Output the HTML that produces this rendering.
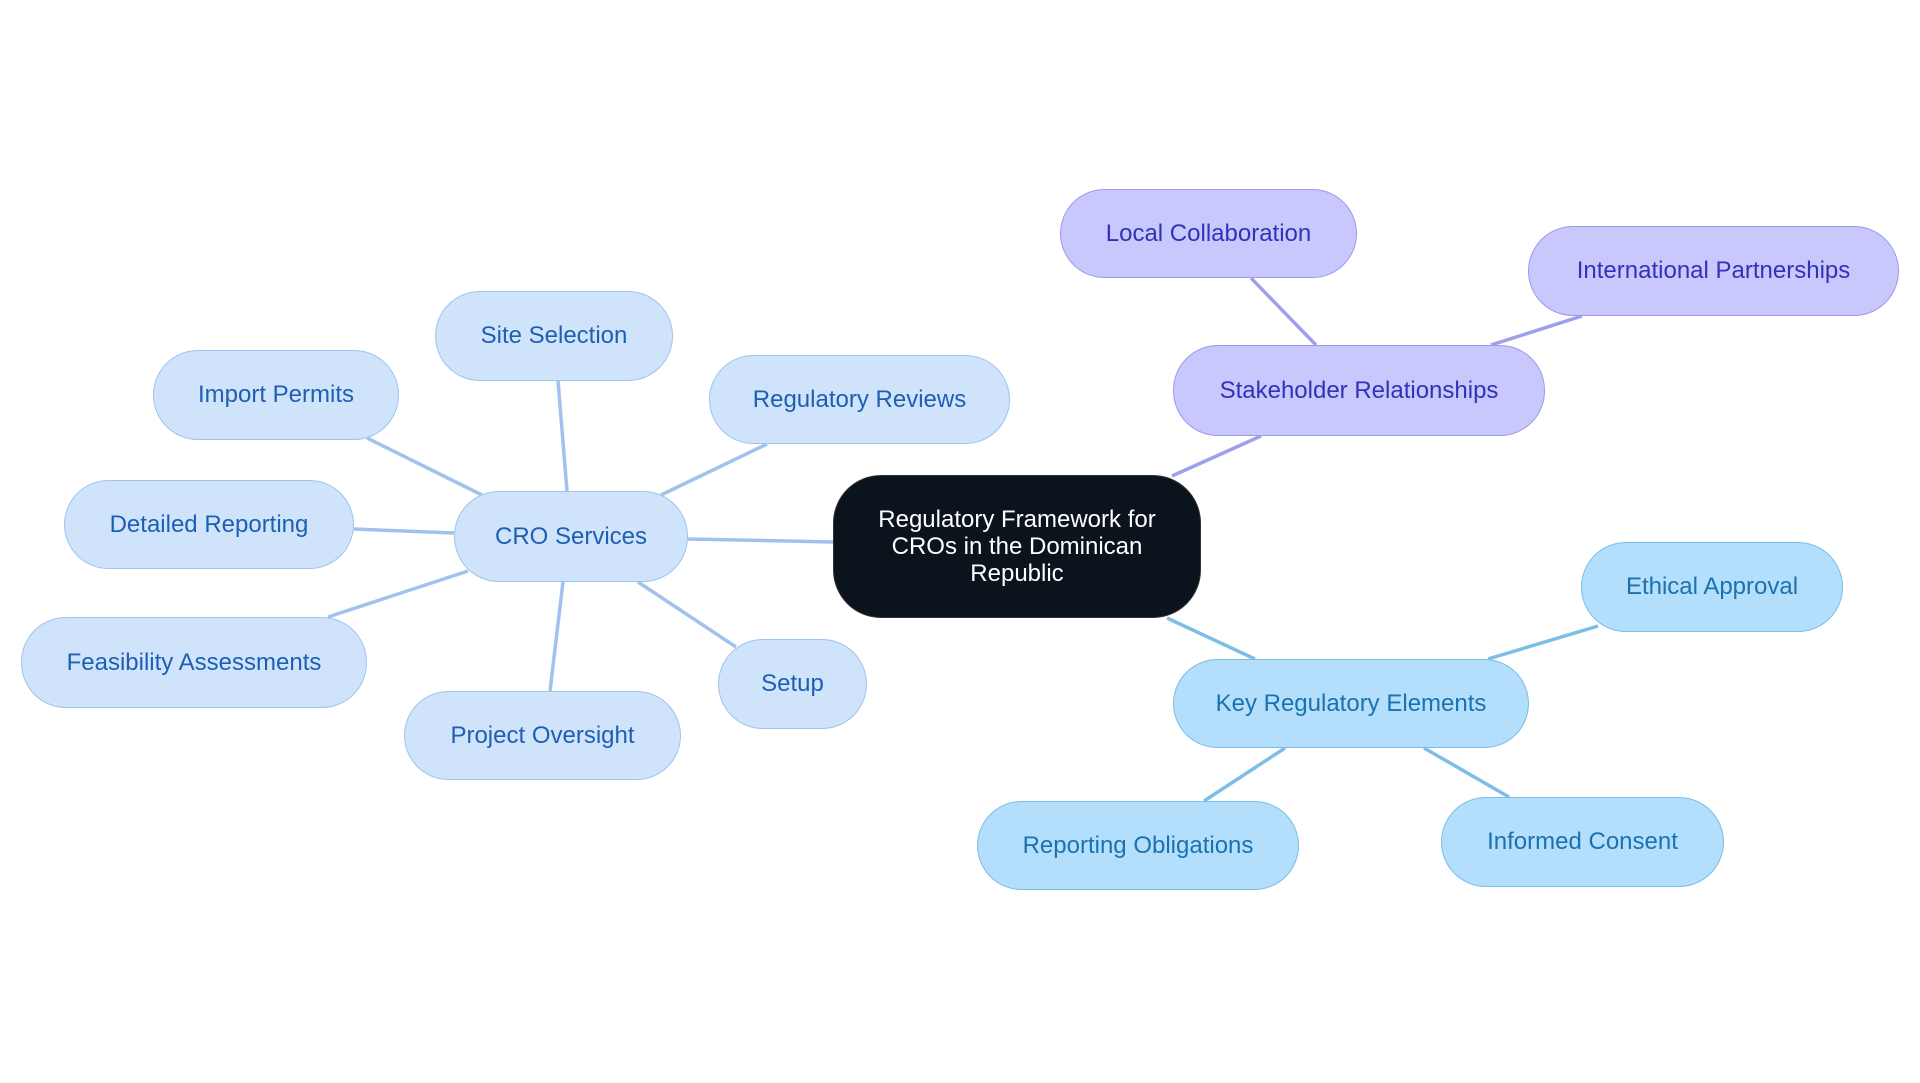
<!DOCTYPE html>
<html><head><meta charset="utf-8"><style>
body{margin:0;width:1920px;height:1083px;background:#fff;position:relative;overflow:hidden;font-family:"Liberation Sans",sans-serif}
.n{position:absolute;box-sizing:border-box;display:flex;align-items:center;justify-content:center;text-align:center;border-radius:45px;font-size:24px;border:1.5px solid}
.c{background:#cfe3fb;border-color:#9fc4ef;color:#1e5fb4}
.s{background:#c8c8fd;border-color:#9b9bea;color:#3232b8}
.k{background:#b3defc;border-color:#7bbde9;color:#1b72b0}
.m{background:#0b141c;border-color:#333;color:#fff;border-radius:48px;line-height:27px}
svg{position:absolute;left:0;top:0}
</style></head><body>
<svg width="1920" height="1083">
<g stroke="#a0c2ec" stroke-width="3.5">
<line x1="688" y1="539" x2="833" y2="542"/>
<line x1="567" y1="491" x2="558" y2="381"/>
<line x1="482" y1="495" x2="367" y2="438"/>
<line x1="661" y1="495" x2="767" y2="444"/>
<line x1="454" y1="533" x2="354" y2="529"/>
<line x1="468" y1="571" x2="328" y2="617"/>
<line x1="563" y1="582" x2="550" y2="691"/>
<line x1="638" y1="582" x2="736" y2="647"/>
</g>
<g stroke="#a0a0ea" stroke-width="3.5">
<line x1="1172" y1="476" x2="1261" y2="436"/>
<line x1="1316" y1="345" x2="1251" y2="278"/>
<line x1="1491" y1="345" x2="1582" y2="316"/>
</g>
<g stroke="#7dbde8" stroke-width="3.5">
<line x1="1167" y1="618" x2="1255" y2="659"/>
<line x1="1488" y1="659" x2="1598" y2="626"/>
<line x1="1424" y1="748" x2="1509" y2="797"/>
<line x1="1285" y1="748" x2="1204" y2="801"/>
</g>
</svg>
<div class="n m" style="left:833px;top:475px;width:368px;height:143px">Regulatory Framework for<br>CROs in the Dominican<br>Republic</div>
<div class="n s" style="left:1173px;top:345px;width:372px;height:91px">Stakeholder Relationships</div>
<div class="n s" style="left:1060px;top:189px;width:297px;height:89px">Local Collaboration</div>
<div class="n s" style="left:1528px;top:226px;width:371px;height:90px">International Partnerships</div>
<div class="n k" style="left:1173px;top:659px;width:356px;height:89px">Key Regulatory Elements</div>
<div class="n k" style="left:1581px;top:542px;width:262px;height:90px">Ethical Approval</div>
<div class="n k" style="left:1441px;top:797px;width:283px;height:90px">Informed Consent</div>
<div class="n k" style="left:977px;top:801px;width:322px;height:89px">Reporting Obligations</div>
<div class="n c" style="left:454px;top:491px;width:234px;height:91px">CRO Services</div>
<div class="n c" style="left:435px;top:291px;width:238px;height:90px">Site Selection</div>
<div class="n c" style="left:153px;top:350px;width:246px;height:90px">Import Permits</div>
<div class="n c" style="left:709px;top:355px;width:301px;height:89px">Regulatory Reviews</div>
<div class="n c" style="left:64px;top:480px;width:290px;height:89px">Detailed Reporting</div>
<div class="n c" style="left:21px;top:617px;width:346px;height:91px">Feasibility Assessments</div>
<div class="n c" style="left:404px;top:691px;width:277px;height:89px">Project Oversight</div>
<div class="n c" style="left:718px;top:639px;width:149px;height:90px">Setup</div>
</body></html>
